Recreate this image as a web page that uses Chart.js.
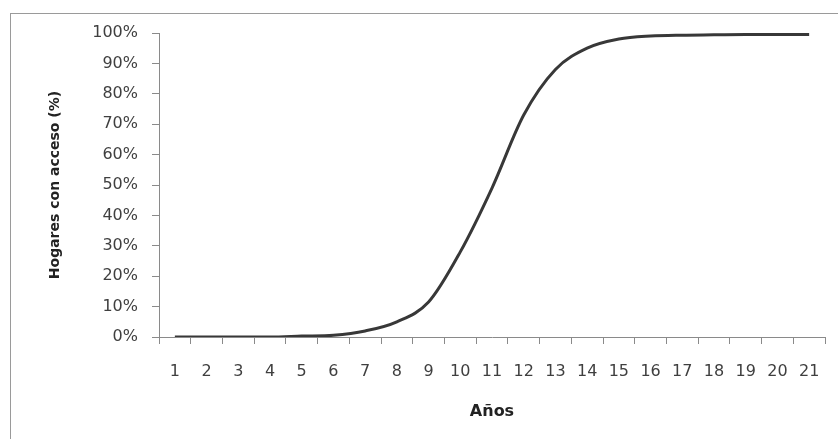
<!DOCTYPE html>
<html>
<head>
<meta charset="utf-8">
<script src="https://cdn.jsdelivr.net/npm/chart.js@4.4.0/dist/chart.umd.min.js"></script>
<style>
  html, body { margin: 0; padding: 0; background: #fff; }
  #wrap { position: relative; width: 838px; height: 439px; }
</style>
</head>
<body>
<div id="wrap"><canvas id="accessChart" width="838" height="439"></canvas></div>
<script>
// Adopción: hogares con acceso por año
const years = ['1', '2', '3', '4', '5', '6', '7', '8', '9', '10', '11',
  '12', '13', '14', '15', '16', '17', '18', '19', '20', '21'];
const householdsPct = [0, 0, 0, 0, 0.3, 0.6, 2, 5, 11.5, 28, 49,
  73, 88, 95, 98, 99, 99.3, 99.4, 99.5, 99.5, 99.5];
const yTicks = [0, 10, 20, 30, 40, 50, 60, 70, 80, 90, 100];

const axisGray = '#8a8a8a';
const textGray = '#3f3f3f';

// thin frame around the whole chart, like the Excel chart area
const frame = {
  id: 'frame',
  beforeDraw(chart) {
    const c = chart.ctx;
    c.save();
    c.fillStyle = '#fff';
    c.fillRect(0, 0, chart.width, chart.height);
    c.strokeStyle = '#9a9a9a';
    c.lineWidth = 1;
    c.strokeRect(10.5, 13.5, chart.width, chart.height);
    c.restore();
  }
};

new Chart(document.getElementById('accessChart'), {
  type: 'line',
  data: {
    labels: years,
    datasets: [{
      data: householdsPct,
      borderColor: '#383838',
      borderWidth: 3,
      pointRadius: 0,
      fill: false,
      cubicInterpolationMode: 'monotone'
    }]
  },
  options: {
    responsive: false,
    animation: false,
    layout: { padding: { left: 43, top: 33, right: 13, bottom: 12 } },
    plugins: { legend: { display: false }, tooltip: { enabled: false } },
    scales: {
      x: {
        offset: true,
        grid: {
          offset: true,
          drawOnChartArea: false,
          drawTicks: true,
          tickLength: 7,
          color: axisGray
        },
        border: { color: axisGray, width: 1 },
        ticks: {
          color: textGray,
          font: { family: 'DejaVu Sans', size: 16 },
          padding: 18,
          maxRotation: 0,
          autoSkip: false
        },
        title: {
          display: true,
          text: 'Años',
          color: '#222',
          font: { family: 'DejaVu Sans', size: 16, weight: 'bold' },
          padding: { top: 0, bottom: 6 }
        },
        afterFit(scale) { scale.height = 90; }
      },
      y: {
        min: 0,
        max: 100,
        afterBuildTicks(scale) { scale.ticks = yTicks.map(v => ({ value: v })); },
        grid: {
          drawOnChartArea: false,
          drawTicks: true,
          tickLength: 7,
          color: axisGray
        },
        border: { color: axisGray, width: 1 },
        ticks: {
          color: textGray,
          font: { family: 'DejaVu Sans', size: 16 },
          padding: 14,
          callback: v => v + '%'
        },
        title: {
          display: true,
          text: 'Hogares con acceso (%)',
          color: '#222',
          font: { family: 'DejaVu Sans', size: 14, weight: 'bold' },
          padding: { top: 4, bottom: 0 }
        },
        afterFit(scale) { scale.width = 116; }
      }
    }
  },
  plugins: [frame]
});
</script>
</body>
</html>
